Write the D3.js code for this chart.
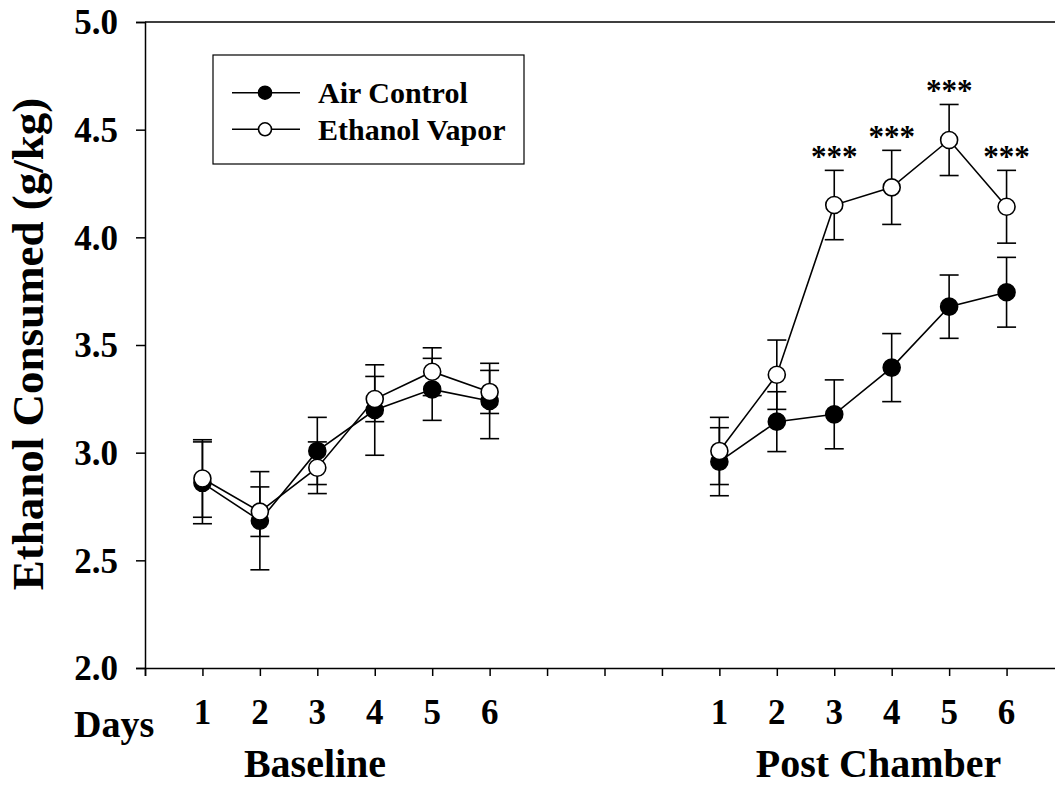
<!DOCTYPE html>
<html>
<head>
<meta charset="utf-8">
<script src="https://cdn.jsdelivr.net/npm/d3@7"></script>
<style>
  html, body { margin: 0; padding: 0; background: #fff; }
  svg { display: block; }
  text { font-family: "Liberation Serif", "Times New Roman", serif; font-weight: bold; fill: #000; }
</style>
</head>
<body>
<svg id="chart" width="1055" height="785"></svg>
<script>
// ---- data ----
const dayLabels = ["1", "2", "3", "4", "5", "6", "1", "2", "3", "4", "5", "6"];
const daySlots = [1, 2, 3, 4, 5, 6, 10, 11, 12, 13, 14, 15];
const segments = [[0, 6], [6, 12]];
const phaseLabels = ["Baseline", "Post Chamber"];
const phaseCenters = [2.96, 12.77];
const airMean = [2.86, 2.684, 3.008, 3.198, 3.294, 3.240, 2.958, 3.144, 3.178, 3.395, 3.678, 3.745];
const airSem  = [0.19, 0.228, 0.156, 0.21, 0.144, 0.175, 0.158, 0.139, 0.16, 0.158, 0.147, 0.162];
const ethMean = [2.88, 2.726, 2.930, 3.249, 3.376, 3.282, 3.008, 3.362, 4.150, 4.232, 4.452, 4.142];
const ethSem  = [0.18, 0.115, 0.12, 0.105, 0.111, 0.10, 0.156, 0.161, 0.161, 0.172, 0.165, 0.169];
const significance = ["", "", "", "", "", "", "", "", "***", "***", "***", "***"];
const yTicks = [2.0, 2.5, 3.0, 3.5, 4.0, 4.5, 5.0];
const seriesNames = ["Air Control", "Ethanol Vapor"];

const svg = d3.select("#chart");
const x = d3.scaleLinear().domain([0, 16]).range([145, 1064]);
const y = d3.scaleLinear().domain([2, 5]).range([668, 22]);

// frame (top and right edges)
svg.append("path")
  .attr("d", `M${x(0)},${y(5)} H${x(16)} V${y(2)}`)
  .attr("fill", "none").attr("stroke", "#000").attr("stroke-width", 1.5);

// y axis
const yAxis = svg.append("g").attr("transform", `translate(${x(0)},0)`)
  .call(d3.axisLeft(y).tickValues(yTicks).tickSize(9).tickFormat(d3.format(".1f")));
yAxis.select(".domain").attr("stroke-width", 1.5);
yAxis.selectAll(".tick line").attr("stroke-width", 1.5);
yAxis.selectAll(".tick text").attr("font-size", 35).attr("font-family", null)
  .attr("x", -27).attr("dy", "0.34em");

// x axis
const xAxis = svg.append("g").attr("transform", `translate(0,${y(2)})`)
  .call(d3.axisBottom(x).tickValues(d3.range(0, 17)).tickSize(8).tickFormat(""));
xAxis.select(".domain").attr("stroke-width", 1.5);
xAxis.selectAll(".tick line").attr("stroke-width", 1.5);

// x day labels
svg.append("g").selectAll("text").data(dayLabels).join("text")
  .attr("x", (d, i) => x(daySlots[i]))
  .attr("y", 724)
  .attr("text-anchor", "middle")
  .attr("font-size", 35)
  .text(d => d);

svg.append("text").attr("x", 74).attr("y", 737).attr("font-size", 38).text("Days");

svg.append("g").selectAll("text").data(phaseLabels).join("text")
  .attr("x", (d, i) => x(phaseCenters[i]))
  .attr("y", 777)
  .attr("text-anchor", "middle")
  .attr("font-size", 40)
  .text(d => d);

// y title
svg.append("text")
  .attr("transform", `translate(43,${344}) rotate(-90)`)
  .attr("text-anchor", "middle")
  .attr("font-size", 45)
  .text("Ethanol Consumed (g/kg)");

// series
function drawSeries(mean, sem, fill) {
  const g = svg.append("g");
  const cap = 9.5;
  mean.forEach((m, i) => {
    const cx = x(daySlots[i]);
    g.append("line").attr("x1", cx).attr("x2", cx)
      .attr("y1", y(m - sem[i])).attr("y2", y(m + sem[i]))
      .attr("stroke", "#000").attr("stroke-width", 1.6);
    [m - sem[i], m + sem[i]].forEach(v => {
      g.append("line").attr("x1", cx - cap).attr("x2", cx + cap)
        .attr("y1", y(v)).attr("y2", y(v))
        .attr("stroke", "#000").attr("stroke-width", 1.6);
    });
  });
  const line = d3.line().x(i => x(daySlots[i])).y(i => y(mean[i]));
  segments.forEach(([a, b]) => {
    g.append("path").attr("d", line(d3.range(a, b)))
      .attr("fill", "none").attr("stroke", "#000").attr("stroke-width", 1.6);
  });
  g.selectAll("circle").data(mean).join("circle")
    .attr("cx", (d, i) => x(daySlots[i]))
    .attr("cy", d => y(d))
    .attr("r", 8.5)
    .attr("fill", fill).attr("stroke", "#000").attr("stroke-width", 1.6);
}
drawSeries(airMean, airSem, "#000");
drawSeries(ethMean, ethSem, "#fff");

// significance stars
svg.append("g").selectAll("text").data(significance).join("text")
  .attr("x", (d, i) => x(daySlots[i]))
  .attr("y", (d, i) => y(ethMean[i] + ethSem[i]) - 3)
  .attr("text-anchor", "middle")
  .attr("font-size", 31)
  .text(d => d);

// legend
const lg = svg.append("g");
lg.append("rect").attr("x", 213).attr("y", 55).attr("width", 311).attr("height", 109)
  .attr("fill", "#fff").attr("stroke", "#000").attr("stroke-width", 1.2);
seriesNames.forEach((name, i) => {
  const cy = 92.7 + i * 36.6;
  lg.append("line").attr("x1", 232).attr("x2", 300).attr("y1", cy).attr("y2", cy)
    .attr("stroke", "#000").attr("stroke-width", 1.6);
  lg.append("circle").attr("cx", 265).attr("cy", cy).attr("r", 6.5)
    .attr("fill", i === 0 ? "#000" : "#fff").attr("stroke", "#000").attr("stroke-width", 1.6);
  lg.append("text").attr("x", 318).attr("y", cy + 10.5).attr("font-size", 30).text(name);
});
</script>
</body>
</html>
